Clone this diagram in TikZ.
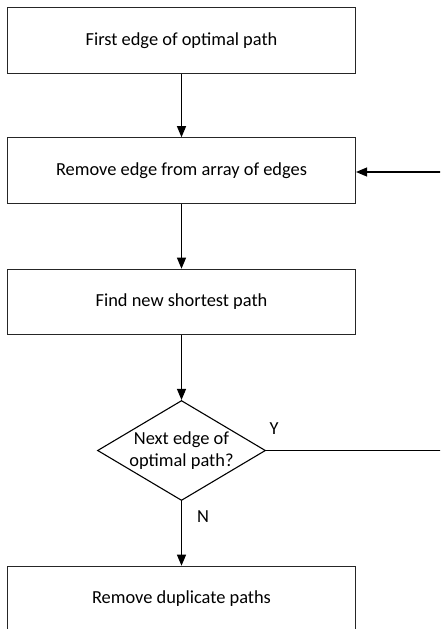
\documentclass[tikz,border=0pt]{standalone}
\usepackage{fontspec}
\setmainfont{Carlito}
\usetikzlibrary{arrows.meta,shapes.geometric}
\begin{document}
\begin{tikzpicture}[x=1pt,y=-1pt,
  box/.style={draw=black!85,line width=1.1pt,minimum width=348pt,minimum height=65.5pt,inner sep=0pt,font=\fontsize{18.4}{22}\selectfont},
  dec/.style={draw=black,line width=1.1pt,diamond,minimum width=168pt,minimum height=100pt,inner sep=0pt,aspect=1.68,align=center,font=\fontsize{18.4}{22}\selectfont},
  conn/.style={line width=1.1pt,-{Triangle[width=9pt,length=11pt]}},
  lbl/.style={font=\fontsize{18.4}{22}\selectfont}]
\useasboundingbox (0,0) rectangle (440,629);
\clip (0,0) rectangle (440,629);
\node[box] (b1) at (181.5,40.5) {First edge of optimal path};
\node[box] (b2) at (181.5,170.5) {Remove edge from array of edges};
\node[box] (b3) at (181.5,302) {Find new shortest path};
\node[dec] (d) at (181.5,450.5) {Next edge of\\optimal path?};
\node[box] (b4) at (181.5,599) {Remove duplicate paths};
\coordinate (cY) at (446,450.5);
\coordinate (cT) at (446,172);
\draw[conn] (b1) -- (b2);
\draw[conn] (b2) -- (b3);
\draw[conn] (b3) -- (d);
\draw[conn] (d) -- (b4);
\draw[conn] (d.east) -- (cY) -- (cT) -- (b2.east |- cT);
\node[lbl] (y) at (274,429) {Y};
\node[lbl] (n) at (203,517) {N};
\end{tikzpicture}
\end{document}
